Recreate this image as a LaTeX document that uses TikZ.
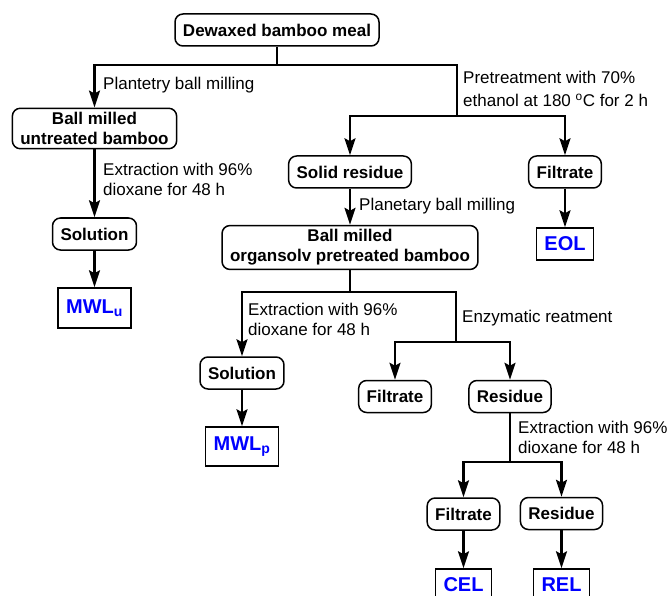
\documentclass[tikz,border=0pt]{standalone}
\usepackage{fontspec}
\setmainfont{Liberation Sans}
\usetikzlibrary{arrows.meta}

\tikzset{
	box/.style={draw, line width=1.5pt, rounded corners=8pt, align=center, inner xsep=8pt, inner ysep=4pt, minimum height=32pt, font=\fontsize{17}{20}\selectfont\bfseries},
	res/.style={draw, line width=1.5pt, inner xsep=8pt, inner ysep=4pt, minimum height=32pt, text=blue, font=\fontsize{20}{24}\selectfont\bfseries},
	lab/.style={anchor=west, align=left, inner sep=0pt, font=\fontsize{17}{20}\selectfont},
	arr/.style={-{Stealth[length=17pt, width=11pt, inset=3pt]}, line width=2.2pt},
	ln/.style={line width=2.2pt}
}

\begin{document}
\begin{tikzpicture}[x=1pt, y=-1pt]
	\useasboundingbox (0,0) rectangle (669,596);

	\node[box] (meal) at (277,30) {Dewaxed bamboo meal};
	\node[box] (um) at (94.5,128.5) {Ball milled\\untreated bamboo};
	\node[box] (sr) at (350,172) {Solid residue};
	\node[box] (f1) at (565,172) {Filtrate};
	\node[box] (sol1) at (94.5,234) {Solution};
	\node[res, minimum height=40pt] (mwlu) at (94.5,308) {MWL\textsubscript{u}};
	\node[box] (om) at (350,247.5) {Ball milled\\organsolv pretreated bamboo};
	\node[res] (eol) at (565,244) {EOL};
	\node[box] (sol2) at (242,373) {Solution};
	\node[res, minimum height=39pt] (mwlp) at (242,446.5) {MWL\textsubscript{p}};
	\node[box] (f2) at (395,396.5) {Filtrate};
	\node[box] (r2) at (510,396.5) {Residue};
	\node[box] (f3) at (463.5,514) {Filtrate};
	\node[box] (r3) at (561.5,513.5) {Residue};
	\node[res] (cel) at (463.5,585) {CEL};
	\node[res] (rel) at (561.5,585) {REL};

	\coordinate (b1) at (277,65);
	\coordinate (b2) at (457,116);
	\coordinate (b3) at (350,292);
	\coordinate (b4) at (456,342);
	\coordinate (b5) at (510,462);

	\node[lab] (t1) at (103,85) {Plantetry ball milling};
	\node[lab] (t2) at (463,89) {Pretreatment with 70\%\\[3pt]ethanol at 180 \textsuperscript{o}C for 2 h};
	\node[lab] (t3) at (103,179) {Extraction with 96\%\\dioxane for 48 h};
	\node[lab] (t4) at (359,206) {Planetary ball milling};
	\node[lab] (t5) at (248,319.5) {Extraction with 96\%\\dioxane for 48 h};
	\node[lab] (t6) at (462,318) {Enzymatic reatment};
	\node[lab] (t7) at (518,437) {Extraction with 96\%\\dioxane for 48 h};

	\foreach \i / \j in {meal/b1, om/b3, r2/b5}
	{
		\draw[ln] (\i) -- (\j);
	};
	\foreach \i / \j in {b1/b2, b3/b4}
	{
		\draw[ln] (\i) -| (\j);
	};
	\foreach \i / \j in {
	b1/um, b2/sr, b2/f1,
	b3/sol2, b4/f2, b4/r2,
	b5/f3, b5/r3}
	{
		\draw[arr] (\i) -| (\j);
	};
	\foreach \i / \j in {
	um/sol1, sol1/mwlu,
	sr/om, f1/eol,
	sol2/mwlp,
	f3/cel, r3/rel}
	{
		\draw[arr] (\i) -- (\j);
	};
\end{tikzpicture}
\end{document}
